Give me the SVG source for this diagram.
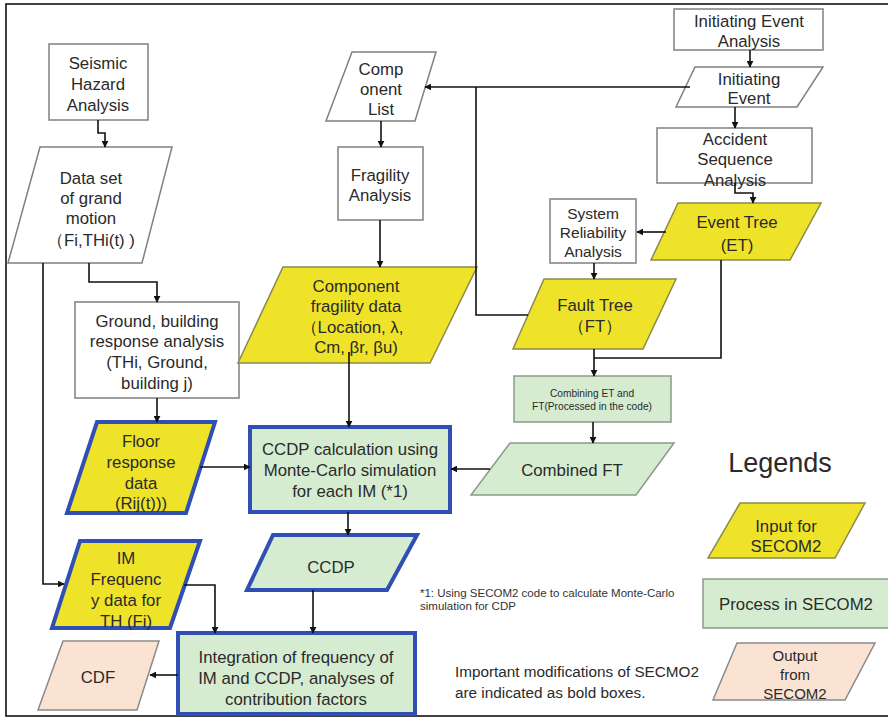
<svg xmlns="http://www.w3.org/2000/svg" width="888" height="718" viewBox="0 0 888 718">
<defs>
<marker id="ah" viewBox="0 0 10 10" refX="9" refY="5" markerWidth="7" markerHeight="7" orient="auto" markerUnits="userSpaceOnUse">
<path d="M0,0 L10,5 L0,10 z" fill="#111"/>
</marker>
<style>
text{font-family:"Liberation Sans",Arial,sans-serif;font-size:16.8px;fill:#2a2a2a;text-anchor:middle}
.plain{fill:#fff;stroke:#808080;stroke-width:1.5}
.inp{fill:#efe32a;stroke:#8a8a50;stroke-width:1.5}
.inpb{fill:#efe32a;stroke:#2f4fb5;stroke-width:4}
.proc{fill:#d6ecd1;stroke:#8a9a88;stroke-width:1.5}
.procb{fill:#d6ecd1;stroke:#2f4fb5;stroke-width:4}
.out{fill:#fbe3d4;stroke:#8a8a8a;stroke-width:1.5}
.c{fill:none;stroke:#111;stroke-width:1.6}
.sm{font-size:10.2px}
.sra{font-size:15.5px}
</style>
</defs>
<rect width="888" height="718" fill="#fff"/>
<rect x="6" y="4" width="900" height="712" fill="none" stroke="#111" stroke-width="1.6"/>

<g id="seismic"><rect class="plain" x="49" y="44" width="99" height="76"/><text x="98" y="69">Seismic</text><text x="98" y="90">Hazard</text><text x="98" y="111">Analysis</text></g>
<g id="dataset"><polygon class="plain" points="40,147 172,147 142,263 8,263"/><text x="91" y="184">Data set</text><text x="91" y="204">of grand</text><text x="91" y="224">motion</text><text x="91" y="246">（Fi,THi(t) )</text></g>
<g id="ground"><rect class="plain" x="75" y="302" width="164" height="96"/><text x="157" y="327">Ground, building</text><text x="157" y="347">response analysis</text><text x="157" y="368">(THi, Ground,</text><text x="157" y="389">building j)</text></g>
<g id="floor"><polygon class="inpb" points="97,422 215,422 186,513 67,513"/><text x="141" y="447">Floor</text><text x="141" y="468">response</text><text x="141" y="489">data</text><text x="141" y="509">(Rij(t)))</text></g>
<g id="imfreq"><polygon class="inpb" points="80,541 200,541 170,628 52,628"/><text x="126" y="564">IM</text><text x="126" y="585">Frequenc</text><text x="126" y="606">y data for</text><text x="126" y="627">TH (Fi)</text></g>
<g id="cdf"><polygon class="out" points="63,641 159,641 137,710 38,710"/><text x="98" y="683">CDF</text></g>
<g id="complist"><polygon class="plain" points="352,52 436,52 415,121 326,121"/><text x="381" y="75">Comp</text><text x="381" y="95">onent</text><text x="381" y="115">List</text></g>
<g id="fragility"><rect class="plain" x="338" y="147" width="85" height="73"/><text x="380" y="181">Fragility</text><text x="380" y="201">Analysis</text></g>
<g id="compfrag"><polygon class="inp" points="283,267 477,267 430,363 238,363"/><text x="356" y="292">Component</text><text x="356" y="312">fragility data</text><text x="352" y="333">（Location, λ,</text><text x="356" y="353">Cm, βr, βu)</text></g>
<g id="ccdpcalc"><rect class="procb" x="250" y="427" width="200" height="85"/><text x="350" y="455">CCDP calculation using</text><text x="350" y="476">Monte-Carlo simulation</text><text x="350" y="497">for each IM (*1)</text></g>
<g id="ccdp"><polygon class="procb" points="273,535 417,535 387,590 247,590"/><text x="331" y="573">CCDP</text></g>
<g id="integ"><rect class="procb" x="178" y="633" width="237" height="81"/><text x="296" y="663">Integration of frequency of</text><text x="296" y="684">IM and CCDP, analyses of</text><text x="296" y="705">contribution factors</text></g>
<g id="iea"><rect class="plain" x="674" y="9" width="149" height="41"/><text x="749" y="27">Initiating Event</text><text x="749" y="47">Analysis</text></g>
<g id="ie"><polygon class="plain" points="695,67 823,67 797,107 676,107"/><text x="749" y="85">Initiating</text><text x="749" y="104">Event</text></g>
<g id="asa"><rect class="plain" x="657" y="128" width="155" height="55"/><text x="735" y="145">Accident</text><text x="735" y="165">Sequence</text><text x="735" y="186">Analysis</text></g>
<g id="et"><polygon class="inp" points="678,203 821,203 790,260 651,260"/><text x="737" y="228">Event Tree</text><text x="737" y="251">(ET)</text></g>
<g id="sra"><rect class="plain" x="550" y="199" width="86" height="64"/><text class="sra" x="593" y="219">System</text><text class="sra" x="593" y="238">Reliability</text><text class="sra" x="593" y="257">Analysis</text></g>
<g id="ft"><polygon class="inp" points="544,279 676,279 643,349 513,349"/><text x="595" y="311">Fault Tree</text><text x="595" y="332">（FT）</text></g>
<g id="combining"><rect class="proc" x="514" y="376" width="157" height="46"/><text class="sm" x="592" y="397">Combining ET and</text><text class="sm" x="592" y="410">FT(Processed in the code)</text></g>
<g id="combinedft"><polygon class="proc" points="510,443 674,443 636,495 471,495"/><text x="572" y="476">Combined FT</text></g>

<g id="legend">
<text x="780" y="472" style="font-size:27px">Legends</text>
<polygon class="inp" points="740,503 865,503 835,558 708,558"/><text x="786" y="532">Input for</text><text x="786" y="552">SECOM2</text>
<rect class="proc" x="703" y="579" width="186" height="49"/><text x="796" y="610">Process in SECOM2</text>
<polygon class="out" points="737,643 875,643 845,700 713,700"/><text x="795" y="661" style="font-size:15px">Output</text><text x="795" y="680" style="font-size:15px">from</text><text x="795" y="699" style="font-size:15px">SECOM2</text>
</g>
<g id="notes">
<text x="420" y="597" style="text-anchor:start;fill:#333;font-size:11.5px">*1: Using SECOM2 code to calculate Monte-Carlo</text>
<text x="420" y="610" style="text-anchor:start;fill:#333;font-size:11.5px">simulation for CDP</text>
<text x="455" y="677" style="text-anchor:start;font-size:15.3px">Important modifications of SECMO2</text>
<text x="455" y="698" style="text-anchor:start;font-size:15.3px">are indicated as bold boxes.</text>
</g>

<g id="connectors">
<path class="c" d="M98,120 V133 H105 V147" marker-end="url(#ah)"/>
<path class="c" d="M89,263 V282 H157 V302" marker-end="url(#ah)"/>
<path class="c" d="M43,263 V584 H64" marker-end="url(#ah)"/>
<path class="c" d="M157,398 V422" marker-end="url(#ah)"/>
<path class="c" d="M200,467 H250" marker-end="url(#ah)"/>
<path class="c" d="M381,121 V147" marker-end="url(#ah)"/>
<path class="c" d="M380,220 V267" marker-end="url(#ah)"/>
<path class="c" d="M349,352 V427" marker-end="url(#ah)"/>
<path class="c" d="M690,87 H425" marker-end="url(#ah)"/>
<path class="c" d="M476,87 V315 H528"/>
<path class="c" d="M750,50 V67" marker-end="url(#ah)"/>
<path class="c" d="M735,107 V128" marker-end="url(#ah)"/>
<path class="c" d="M735,183 V193 H753 V203" marker-end="url(#ah)"/>
<path class="c" d="M666,232 H637" marker-end="url(#ah)"/>
<path class="c" d="M594,263 V279" marker-end="url(#ah)"/>
<path class="c" d="M721,260 V358 H594"/>
<path class="c" d="M594,349 V376" marker-end="url(#ah)"/>
<path class="c" d="M593,422 V443" marker-end="url(#ah)"/>
<path class="c" d="M490,469 H451" marker-end="url(#ah)"/>
<path class="c" d="M348,512 V535" marker-end="url(#ah)"/>
<path class="c" d="M313,590 V633" marker-end="url(#ah)"/>
<path class="c" d="M184,585 H215 V633" marker-end="url(#ah)"/>
<path class="c" d="M178,675 H150" marker-end="url(#ah)"/>
</g>
</svg>
